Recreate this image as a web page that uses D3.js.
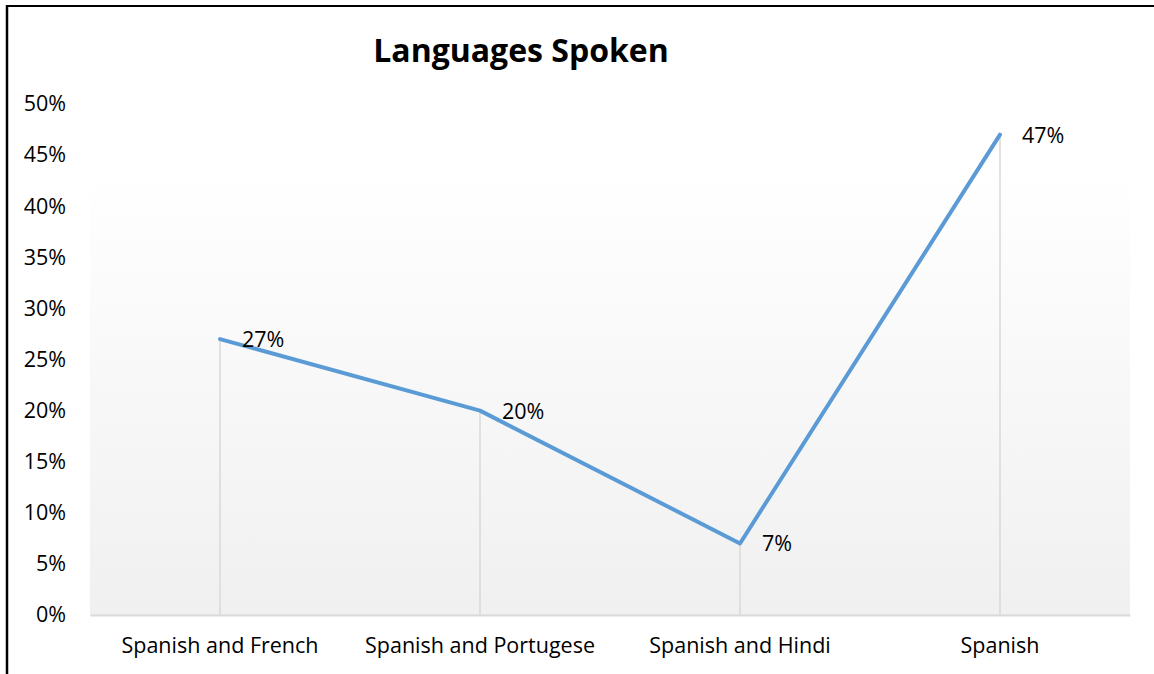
<!DOCTYPE html>
<html>
<head>
<meta charset="utf-8">
<script src="https://cdn.jsdelivr.net/npm/d3@7"></script>
<style>
  html, body { margin: 0; padding: 0; background: #fff; }
  svg { display: block; font-family: "Open Sans", "Noto Sans", sans-serif; }
</style>
</head>
<body>
<svg id="chart" width="1154" height="674"></svg>
<script>
// Share of respondents by languages spoken
const categories = ["Spanish and French", "Spanish and Portugese", "Spanish and Hindi", "Spanish"];
const values = [0.27, 0.20, 0.07, 0.47];
const yTicks = [0, 0.05, 0.10, 0.15, 0.20, 0.25, 0.30, 0.35, 0.40, 0.45, 0.50];
const title = "Languages Spoken";

const svg = d3.select("#chart");
const W = 1154, H = 674;
const plot = { left: 90, right: 1130, top: 104, bottom: 615 };
const FS = 21.5;

// frame lines on the left and top edges
svg.append("line").attr("x1", 7).attr("x2", 7).attr("y1", 5).attr("y2", H)
  .attr("stroke", "#000").attr("stroke-width", 2.5);
svg.append("line").attr("x1", 6).attr("x2", W).attr("y1", 6).attr("y2", 6)
  .attr("stroke", "#000").attr("stroke-width", 2);

const x = d3.scaleBand().domain(categories).range([plot.left, plot.right]);
const y = d3.scaleLinear().domain([0, 0.5]).range([plot.bottom, plot.top]);

// plot area background: light vertical gradient
const defs = svg.append("defs");
const grad = defs.append("linearGradient").attr("id", "bg")
  .attr("x1", 0).attr("x2", 0).attr("y1", 0).attr("y2", 1);
grad.append("stop").attr("offset", "0%").attr("stop-color", "#ffffff");
grad.append("stop").attr("offset", "100%").attr("stop-color", "#f0f0f0");
svg.append("rect")
  .attr("x", plot.left).attr("y", y(0.45) + 15)
  .attr("width", plot.right - plot.left).attr("height", plot.bottom - y(0.45) - 15)
  .attr("fill", "url(#bg)");

// title
svg.append("text").attr("x", 521).attr("y", 62)
  .attr("text-anchor", "middle").attr("font-size", 32).attr("font-weight", "bold")
  .attr("fill", "#000").text(title);

// y axis labels
const yAxis = d3.axisLeft(y).tickValues(yTicks).tickFormat(d3.format(".0%")).tickSize(0).tickPadding(0);
const yg = svg.append("g").attr("transform", "translate(66,0)").call(yAxis);
yg.select(".domain").remove();
yg.selectAll("text").attr("font-size", FS).attr("fill", "#000")
  .attr("font-family", "'Open Sans', sans-serif");

// x axis
const xAxis = d3.axisBottom(x).tickSize(0).tickPadding(0);
const xg = svg.append("g").attr("transform", `translate(0,${plot.bottom})`).call(xAxis);
xg.select(".domain").attr("stroke", "#d9d9d9").attr("stroke-width", 2);
xg.selectAll("text").attr("font-size", FS).attr("fill", "#000").attr("dy", 0).attr("y", 38)
  .attr("font-family", "'Open Sans', sans-serif");

const cx = d => x(d) + x.bandwidth() / 2;

// drop lines from each point to the axis
svg.append("g").selectAll("line").data(categories).join("line")
  .attr("x1", d => cx(d)).attr("x2", d => cx(d))
  .attr("y1", (d, i) => y(values[i])).attr("y2", plot.bottom)
  .attr("stroke", "#d9d9d9").attr("stroke-width", 1.5);

// series line
const line = d3.line().x((d, i) => cx(categories[i])).y(d => y(d));
svg.append("path").datum(values)
  .attr("d", line).attr("fill", "none")
  .attr("stroke", "#5b9bd5").attr("stroke-width", 4)
  .attr("stroke-linejoin", "round").attr("stroke-linecap", "round");

// data labels
svg.append("g").selectAll("text").data(values).join("text")
  .attr("x", (d, i) => cx(categories[i]) + 22)
  .attr("y", d => y(d) + 8)
  .attr("font-size", FS).attr("fill", "#000")
  .text(d => d3.format(".0%")(d));
</script>
</body>
</html>
